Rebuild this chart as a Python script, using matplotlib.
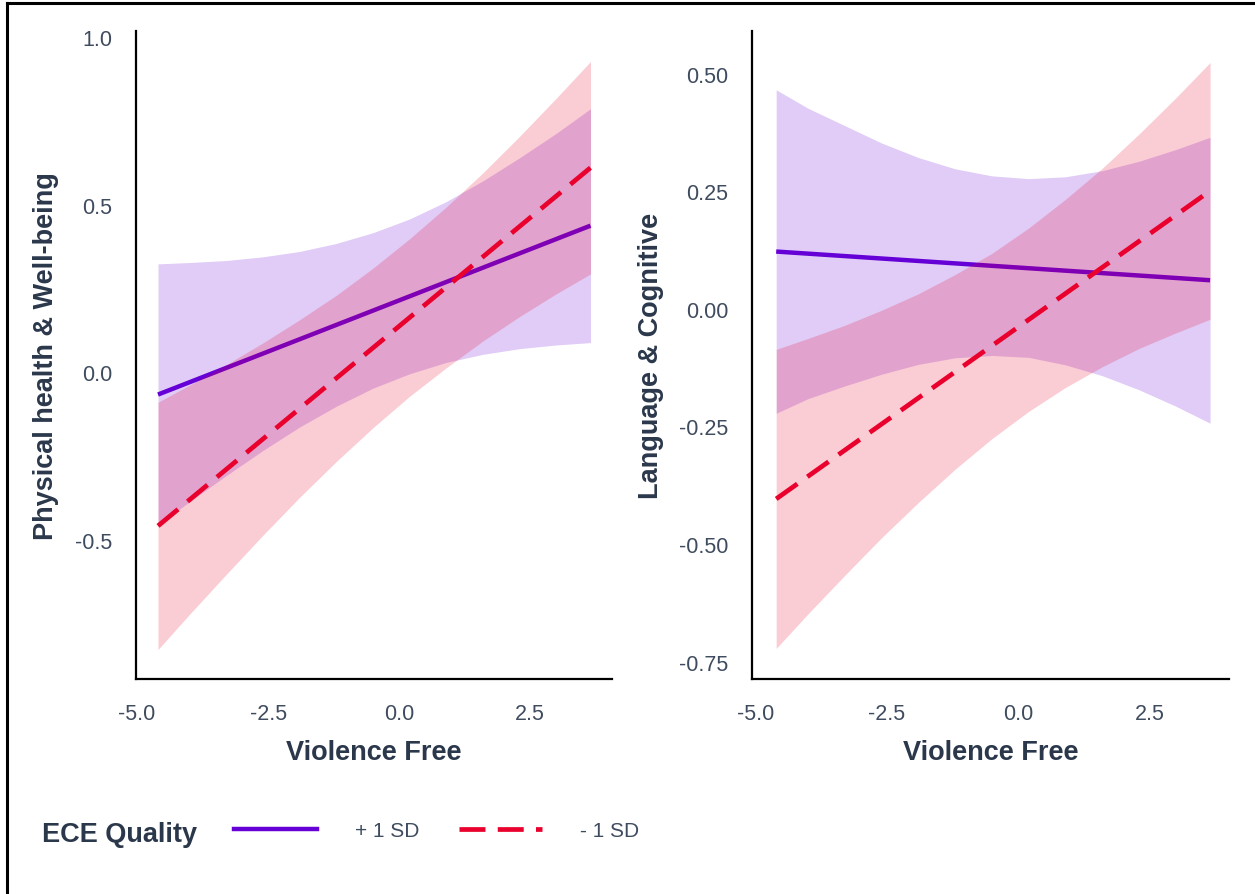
import matplotlib
matplotlib.use("Agg")
import matplotlib.pyplot as plt
from matplotlib.lines import Line2D

plt.rcParams['font.family'] = ['Liberation Sans', 'DejaVu Sans']

x_grid = [-4.6, -4.0, -3.3, -2.6, -1.9, -1.2, -0.5, 0.2, 0.9, 1.6, 2.3, 3.0, 3.65]
x_ends = [-4.6, 3.65]

# Physical health & Well-being
phys_hi_line = [-0.067, 0.437]
phys_hi_upper = [0.323, 0.327, 0.333, 0.344, 0.360, 0.384, 0.416, 0.457, 0.509, 0.571, 0.640, 0.713, 0.786]
phys_hi_lower = [-0.457, -0.387, -0.309, -0.234, -0.164, -0.102, -0.048, -0.005, 0.029, 0.053, 0.070, 0.081, 0.088]
phys_lo_line = [-0.459, 0.610]
phys_lo_upper = [-0.090, -0.039, 0.022, 0.087, 0.156, 0.229, 0.310, 0.398, 0.493, 0.595, 0.704, 0.818, 0.927]
phys_lo_lower = [-0.828, -0.723, -0.604, -0.487, -0.374, -0.267, -0.166, -0.072, 0.013, 0.093, 0.166, 0.234, 0.293]

# Language & Cognitive
lang_hi_line = [0.122, 0.061]
lang_hi_upper = [0.466, 0.427, 0.390, 0.353, 0.322, 0.298, 0.283, 0.277, 0.281, 0.294, 0.314, 0.339, 0.365]
lang_hi_lower = [-0.222, -0.191, -0.164, -0.139, -0.118, -0.104, -0.099, -0.103, -0.119, -0.142, -0.172, -0.207, -0.243]
lang_lo_line = [-0.404, 0.251]
lang_lo_upper = [-0.086, -0.063, -0.035, -0.003, 0.032, 0.073, 0.118, 0.172, 0.233, 0.299, 0.372, 0.449, 0.524]
lang_lo_lower = [-0.722, -0.649, -0.567, -0.487, -0.412, -0.341, -0.276, -0.218, -0.167, -0.123, -0.084, -0.051, -0.022]

x_ticks = [-5.0, -2.5, 0.0, 2.5]
x_tick_labels = ['-5.0', '-2.5', '0.0', '2.5']
phys_ticks = [-0.5, 0.0, 0.5, 1.0]
phys_tick_labels = ['-0.5', '0.0', '0.5', '1.0']
lang_ticks = [-0.75, -0.5, -0.25, 0.0, 0.25, 0.5]
lang_tick_labels = ['-0.75', '-0.50', '-0.25', '0.00', '0.25', '0.50']

PURPLE = '#6500D6'
RED = '#EA002C'
TICK_COL = '#3F4B5E'
LABEL_COL = '#2B384B'

W, H = 1255, 895
fig = plt.figure(figsize=(W / 100, H / 100), dpi=100)


def px_axes(x0, x1, y0, y1):
    return fig.add_axes([x0 / W, 1 - y1 / H, (x1 - x0) / W, (y1 - y0) / H])


def draw_panel(ax, hi_line, hi_up, hi_lo, lo_line, lo_up, lo_lo, yticks, ylabels, ylabel, ylab_x):
    ax.fill_between(x_grid, hi_lo, hi_up, color=PURPLE, alpha=0.2, linewidth=0, zorder=1)
    ax.plot(x_ends, hi_line, color=PURPLE, linewidth=3.2, solid_capstyle='butt', zorder=2)
    ax.fill_between(x_grid, lo_lo, lo_up, color=RED, alpha=0.2, linewidth=0, zorder=3)
    ax.plot(x_ends, lo_line, color=RED, linewidth=3.4, dashes=(5.5, 2.6), zorder=4)

    for s in ['top', 'right']:
        ax.spines[s].set_visible(False)
    for s in ['left', 'bottom']:
        ax.spines[s].set_linewidth(1.6)
        ax.spines[s].set_color('black')

    ax.set_xticks(x_ticks)
    ax.set_xticklabels(x_tick_labels)
    ax.set_yticks(yticks)
    ax.set_yticklabels(ylabels)
    ax.tick_params(length=0, labelsize=15.5, colors=TICK_COL)
    ax.tick_params(axis='x', pad=17)
    ax.tick_params(axis='y', pad=17)

    ax.set_xlabel('Violence Free', fontsize=19.5, fontweight='bold', color=LABEL_COL)
    ax.xaxis.set_label_coords(0.5, -0.113)
    ax.xaxis.label.set_va('center')
    ax.set_ylabel(ylabel, fontsize=19.5, fontweight='bold', color=LABEL_COL)
    ax.yaxis.set_label_coords(ylab_x, 0.5)
    ax.yaxis.label.set_va('center')


ax1 = px_axes(136, 612, 32, 680)
ax1.set_xlim(-5.02, 4.06)
ax1.set_ylim(-0.916, 1.018)
draw_panel(ax1, phys_hi_line, phys_hi_upper, phys_hi_lower,
           phys_lo_line, phys_lo_upper, phys_lo_lower,
           phys_ticks, phys_tick_labels, 'Physical health & Well-being', -0.189)

ax2 = px_axes(752, 1229, 32, 680)
ax2.set_xlim(-5.06, 4.01)
ax2.set_ylim(-0.787, 0.591)
draw_panel(ax2, lang_hi_line, lang_hi_upper, lang_hi_lower,
           lang_lo_line, lang_lo_upper, lang_lo_lower,
           lang_ticks, lang_tick_labels, 'Language & Cognitive', -0.212)

# legend along the bottom
fig.text(42 / W, 1 - 835 / H, 'ECE Quality', fontsize=19.5, fontweight='bold',
         color=LABEL_COL, ha='left', va='center')
handles = [Line2D([], [], color=PURPLE, linewidth=3.2),
           Line2D([], [], color=RED, linewidth=3.4, dashes=(5.5, 2.6))]
leg = fig.legend(handles, ['+ 1 SD', '- 1 SD'], loc='center left',
                 bbox_to_anchor=(234 / W, 1 - 832 / H), ncol=2, frameon=False,
                 fontsize=15, handlelength=4.0, handletextpad=1.8,
                 columnspacing=1.9, borderpad=0, borderaxespad=0)
for t in leg.get_texts():
    t.set_color(TICK_COL)

# frame of the cropped figure
fig.add_artist(Line2D([7 / W, 7 / W], [0, 1 - 4 / H], color='black', linewidth=2.2))
fig.add_artist(Line2D([7 / W, 1], [1 - 4 / H, 1 - 4 / H], color='black', linewidth=2.2))

fig.savefig('out.png', dpi=100)
